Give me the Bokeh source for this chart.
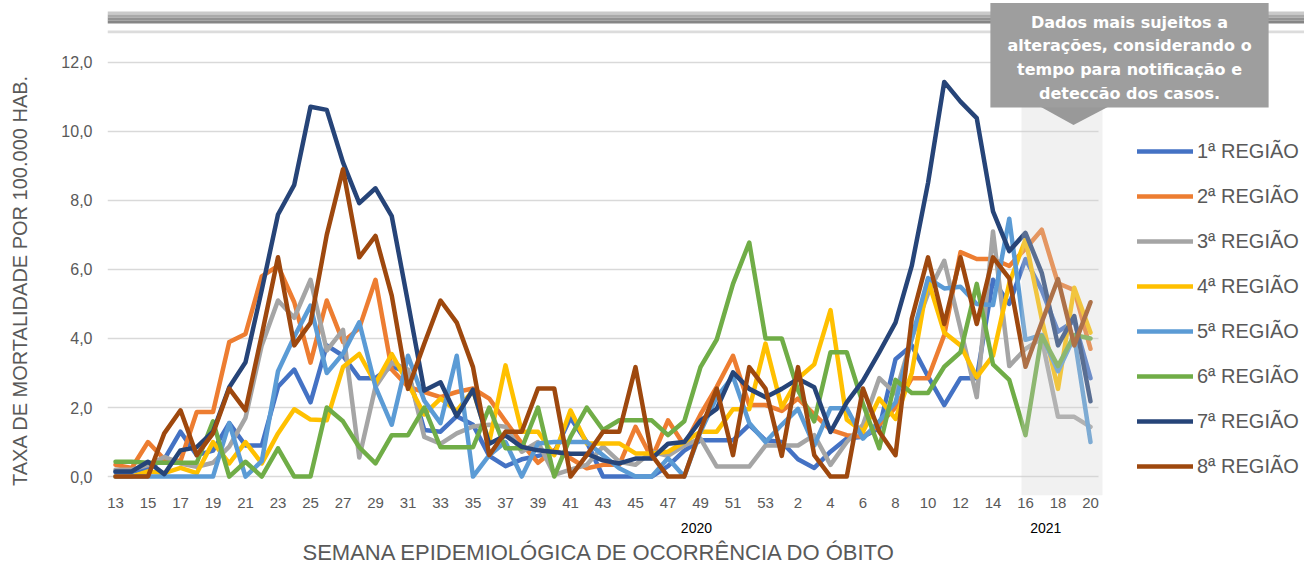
from bokeh.plotting import figure
from bokeh.models import (FixedTicker, Legend, LegendItem, Label, BoxAnnotation,
                          PolyAnnotation, Range1d, LinearAxis)
from bokeh.embed import file_html
from bokeh.resources import INLINE

# ---------------- data ----------------
weeks_2020 = list(range(13, 54))
weeks_2021 = list(range(1, 21))
week_labels = [str(w) for w in weeks_2020 + weeks_2021]
year_labels = ["2020", "2021"]

series_names = ["1ª REGIÃO", "2ª REGIÃO", "3ª REGIÃO", "4ª REGIÃO",
                "5ª REGIÃO", "6ª REGIÃO", "7ª REGIÃO", "8ª REGIÃO"]

r1 = [0.13, 0.13, 0.25, 0.5, 1.3, 0.62, 0.75, 1.55, 0.9, 0.9, 2.6, 3.1, 2.15, 3.8, 3.5, 2.85,
      2.85, 3.2, 3.0, 1.35, 1.3, 1.75, 1.5, 0.6, 0.3, 0.5, 0.6, 0.7, 1.7, 1.0, 0.0, 0.0,
      0.0, 0.0, 0.3, 0.75, 1.05, 1.05, 1.05, 1.5, 1.05, 1.0, 0.5, 0.25, 0.72, 1.1, 1.15, 1.4,
      3.4, 3.8, 2.9, 2.07, 2.85, 2.85, 5.7, 5.0, 6.3, 5.4, 4.2, 4.5, 2.85]
r2 = [0.34, 0.25, 1.0, 0.5, 0.45, 1.87, 1.87, 3.9, 4.13, 5.8, 6.1, 5.05, 3.3, 5.1, 3.9, 4.3,
      5.7, 3.1, 2.6, 2.45, 2.3, 2.45, 2.55, 2.26, 1.6, 0.96, 0.4, 0.77, 0.53, 0.24, 0.34, 0.34,
      1.44, 0.53, 1.63, 0.9, 1.8, 2.6, 3.5, 2.07, 2.07, 1.9, 2.26, 1.8, 1.35, 1.2, 1.15, 1.5,
      2.0, 2.85, 2.85, 4.1, 6.5, 6.3, 6.3, 6.1, 6.6, 7.15, 5.6, 5.4, 3.7]
r3 = [0.2, 0.2, 0.33, 0.57, 0.38, 0.28, 0.4, 0.87, 1.7, 3.8, 5.1, 4.6, 5.7, 3.65, 4.25, 0.55,
      2.6, 3.3, 3.1, 1.15, 0.95, 1.25, 1.45, 1.5, 1.44, 0.72, 1.0, 0.05, 0.2, 0.34, 0.87, 0.43,
      0.34, 0.72, 0.6, 0.9, 1.1, 0.29, 0.29, 0.29, 0.9, 0.9, 0.9, 1.2, 0.34, 1.0, 1.5, 2.85,
      2.4, 4.0, 5.3, 6.25, 4.28, 2.3, 7.1, 3.2, 3.7, 4.0, 1.73, 1.73, 1.44]
r4 = [0.0, 0.0, 0.15, 0.1, 0.25, 0.1, 1.0, 0.38, 1.0, 0.38, 1.25, 1.95, 1.65, 1.63, 3.17, 3.55,
      2.7, 3.55, 2.7, 1.8, 2.26, 1.9, 2.5, 1.0, 3.22, 1.3, 1.3, 0.62, 1.92, 0.96, 0.96, 0.96,
      0.67, 0.67, 0.72, 1.0, 1.3, 1.3, 1.95, 1.95, 3.85, 2.0, 2.84, 3.25, 4.82, 1.65, 1.3, 2.26,
      1.67, 3.0, 5.7, 4.17, 3.8, 2.88, 3.5, 5.6, 6.87, 4.56, 2.54, 5.47, 4.17]
r5 = [0.0, 0.0, 0.0, 0.0, 0.0, 0.0, 0.0, 1.55, 0.0, 0.45, 3.05, 4.05, 4.95, 3.0, 3.56, 4.47,
      2.6, 1.5, 3.5, 2.2, 1.55, 3.5, 0.0, 0.62, 1.0, 0.0, 0.96, 1.0, 1.0, 1.0, 0.62, 0.24,
      0.0, 0.0, 0.53, 0.0, 1.3, 2.3, 2.9, 1.55, 1.0, 1.5, 1.96, 0.9, 1.98, 1.98, 1.1, 1.6,
      2.15, 4.0, 5.75, 5.45, 5.5, 5.0, 4.97, 7.47, 3.96, 4.1, 3.05, 4.05, 1.0]
r6 = [0.43, 0.43, 0.4, 0.4, 0.4, 0.4, 1.6, 0.0, 0.43, 0.0, 0.82, 0.0, 0.0, 2.0, 1.6, 0.85,
      0.38, 1.2, 1.2, 2.0, 0.85, 0.85, 0.85, 2.0, 0.82, 0.82, 2.0, 0.0, 1.15, 2.0, 1.35, 1.63,
      1.63, 1.63, 1.2, 1.6, 3.17, 3.97, 5.58, 6.78, 4.0, 4.0, 2.5, 1.6, 3.6, 3.6, 2.1, 0.82,
      2.8, 2.42, 2.42, 3.18, 3.6, 5.58, 3.25, 2.8, 1.2, 4.08, 3.2, 4.1, 4.0]
r7 = [0.15, 0.15, 0.43, 0.07, 0.76, 0.85, 1.3, 2.59, 3.31, 5.4, 7.59, 8.45, 10.71, 10.62, 9.1, 7.92,
      8.35, 7.54, 5.04, 2.49, 2.73, 1.75, 2.52, 0.95, 1.19, 0.86, 0.76, 0.71, 0.66, 0.66, 0.47, 0.38,
      0.52, 0.52, 0.95, 1.0, 1.62, 1.96, 3.02, 2.54, 2.3, 2.54, 2.83, 2.59, 1.29, 2.15, 2.78, 3.6,
      4.46, 6.1, 8.5, 11.43, 10.86, 10.38, 7.68, 6.53, 7.06, 5.9, 3.8, 4.65, 2.18]
r8 = [0.0, 0.0, 0.0, 1.25, 1.92, 0.62, 1.25, 2.55, 1.92, 4.1, 6.35, 3.8, 4.45, 7.0, 8.9, 6.35,
      6.97, 5.24, 2.54, 3.85, 5.1, 4.46, 3.17, 0.62, 1.3, 1.3, 2.55, 2.55, 0.0, 0.62, 1.3, 1.3,
      3.17, 0.62, 0.0, 0.0, 1.35, 2.55, 0.62, 3.17, 2.55, 0.6, 3.17, 0.62, 0.0, 0.0, 2.55, 1.3,
      0.62, 4.57, 6.35, 4.42, 6.35, 4.42, 6.35, 5.74, 3.18, 4.47, 5.72, 3.8, 5.05]
series_values = [r1, r2, r3, r4, r5, r6, r7, r8]

y_ticks = [0, 2, 4, 6, 8, 10, 12]
y_tick_labels = ["0,0", "2,0", "4,0", "6,0", "8,0", "10,0", "12,0"]

colors = ["#4472C4", "#ED7D31", "#A5A5A5", "#FFC000",
          "#5B9BD5", "#70AD47", "#264478", "#9E480E"]

callout_text = ("Dados mais sujeitos a\nalterações, considerando o\n"
                "tempo para notificação e\ndeteccão dos casos.")
x_title = "SEMANA EPIDEMIOLÓGICA DE OCORRÊNCIA  DO ÓBITO"
y_title = "TAXA DE MORTALIDADE POR 100.000 HAB."

# ---------------- layout helpers (page pixel -> data) ----------------
W, H = 1304, 567
X0, DX = 115.0, 16.25      # page x of first week, px per week
Y0, DY = 478.0, 34.667     # page y of value 0, px per unit
FRAME_L, FRAME_B = 107, 497


def px(xpage):
    return (xpage - X0) / DX


def py(ypage):
    return (Y0 - ypage) / DY


FONT = "Liberation Sans"
GREY = "#595959"
n = len(week_labels)

p = figure(width=W, height=H, output_backend="svg", toolbar_location=None,
           x_range=Range1d(px(FRAME_L), px(W)),
           y_range=Range1d(py(FRAME_B), py(0)),
           min_border_left=FRAME_L, min_border_right=0,
           min_border_top=0, min_border_bottom=H - FRAME_B)
p.title = None
p.outline_line_color = None
p.background_fill_color = "white"
p.border_fill_color = "white"


def plain_axis(ax):
    ax.axis_line_color = None
    ax.major_tick_line_color = None
    ax.minor_tick_line_color = None
    ax.major_tick_in = 0
    ax.major_tick_out = 0
    ax.minor_tick_in = 0
    ax.minor_tick_out = 0


# main x axis: week numbers
xa = p.xaxis[0]
xa.ticker = FixedTicker(ticks=list(range(0, n, 2)))
xa.major_label_overrides = {i: week_labels[i] for i in range(0, n, 2)}
plain_axis(xa)
xa.major_label_text_font = FONT
xa.major_label_text_font_size = "15px"
xa.major_label_text_color = GREY
xa.major_label_standoff = 2

# year axis
year_pos = [35.75, 57.25]
ya_axis = LinearAxis(ticker=FixedTicker(ticks=year_pos),
                     major_label_overrides=dict(zip(year_pos, year_labels)))
plain_axis(ya_axis)
ya_axis.major_label_text_font = FONT
ya_axis.major_label_text_font_size = "14px"
ya_axis.major_label_text_color = "#000000"
ya_axis.major_label_standoff = 12
p.add_layout(ya_axis, "below")

# axis title for x (centred on the week span)
x_mid = (n - 1) / 2
xt_axis = LinearAxis(ticker=FixedTicker(ticks=[x_mid]),
                     major_label_overrides={x_mid: x_title})
plain_axis(xt_axis)
xt_axis.major_label_text_font = FONT
xt_axis.major_label_text_font_size = "22px"
xt_axis.major_label_text_color = GREY
xt_axis.major_label_standoff = 4
p.add_layout(xt_axis, "below")

p.xgrid.visible = False

# y axis
yax = p.yaxis[0]
yax.ticker = FixedTicker(ticks=y_ticks)
yax.major_label_overrides = dict(zip(y_ticks, y_tick_labels))
plain_axis(yax)
yax.major_label_text_font = FONT
yax.major_label_text_font_size = "16px"
yax.major_label_text_color = GREY
yax.major_label_standoff = 15

y_mid = py(281)
yt_axis = LinearAxis(ticker=FixedTicker(ticks=[y_mid]),
                     major_label_overrides={y_mid: y_title},
                     major_label_orientation="vertical")
plain_axis(yt_axis)
yt_axis.major_label_text_font = FONT
yt_axis.major_label_text_font_size = "20px"
yt_axis.major_label_text_color = GREY
yt_axis.major_label_standoff = 27
p.add_layout(yt_axis, "left")

g = p.ygrid[0]
g.grid_line_color = "#d9d9d9"
g.grid_line_width = 1.5
if "cross_bounds" in g.properties():
    g.cross_bounds = (-0.5, n - 0.5)
else:
    g.visible = False
    p.segment(x0=[-0.5] * len(y_ticks), x1=[n - 0.5] * len(y_ticks), y0=y_ticks, y1=y_ticks,
              line_color="#d9d9d9", line_width=1.5, level="underlay")

# lines
x = list(range(n))
renderers = []
for vals, c in zip(series_values, colors):
    r = p.line(x, vals, line_color=c, line_width=4.5, line_join="round", line_cap="round")
    renderers.append(r)

# shaded "recent data" region (semi-transparent overlay)
p.add_layout(BoxAnnotation(left=px(1021), right=px(1102), bottom=py(FRAME_B), top=py(100),
                           fill_color="#d0d0d0", fill_alpha=0.3, line_color=None))

# top decoration band
for y_top, y_bot, col in [(11, 14, "#cacaca"), (14, 17, "#aaaaaa"),
                          (17, 20, "#939393"), (20, 23, "#868686"), (30, 33, "#dcdcdc")]:
    p.add_layout(BoxAnnotation(top=py(y_top), bottom=py(y_bot),
                               fill_color=col, fill_alpha=1.0, line_color=None))

# legend
legend = Legend(items=[LegendItem(label=nm, renderers=[r]) for nm, r in zip(series_names, renderers)],
                location=(1137 - FRAME_L, FRAME_B - 483), orientation="vertical",
                glyph_width=56, glyph_height=30, label_height=30, spacing=15,
                padding=0, margin=0, label_standoff=4,
                border_line_color=None, background_fill_alpha=0.0,
                label_text_font=FONT, label_text_font_size="20px", label_text_color=GREY)
p.add_layout(legend)

# callout
p.add_layout(PolyAnnotation(xs=[px(1035), px(1113), px(1073)],
                            ys=[py(104), py(104), py(125)],
                            fill_color="#999999", fill_alpha=1.0, line_color=None))
pad = dict(left=17, right=17, top=10, bottom=5)
for shadow in (True, False):
    p.add_layout(Label(x=px(1129), y=py(55), text=callout_text, text_align="center",
                       text_baseline="middle", text_font="DejaVu Sans", text_font_style="bold",
                       text_font_size="16px", text_line_height=1.24,
                       text_color="white", text_alpha=0.0 if shadow else 1.0,
                       background_fill_color="#000000" if shadow else "#9e9e9e",
                       background_fill_alpha=0.14 if shadow else 1.0,
                       padding=pad, x_offset=2 if shadow else 0, y_offset=-4 if shadow else 0))

open("out.html", "w", encoding="utf-8").write(file_html(p, INLINE))
